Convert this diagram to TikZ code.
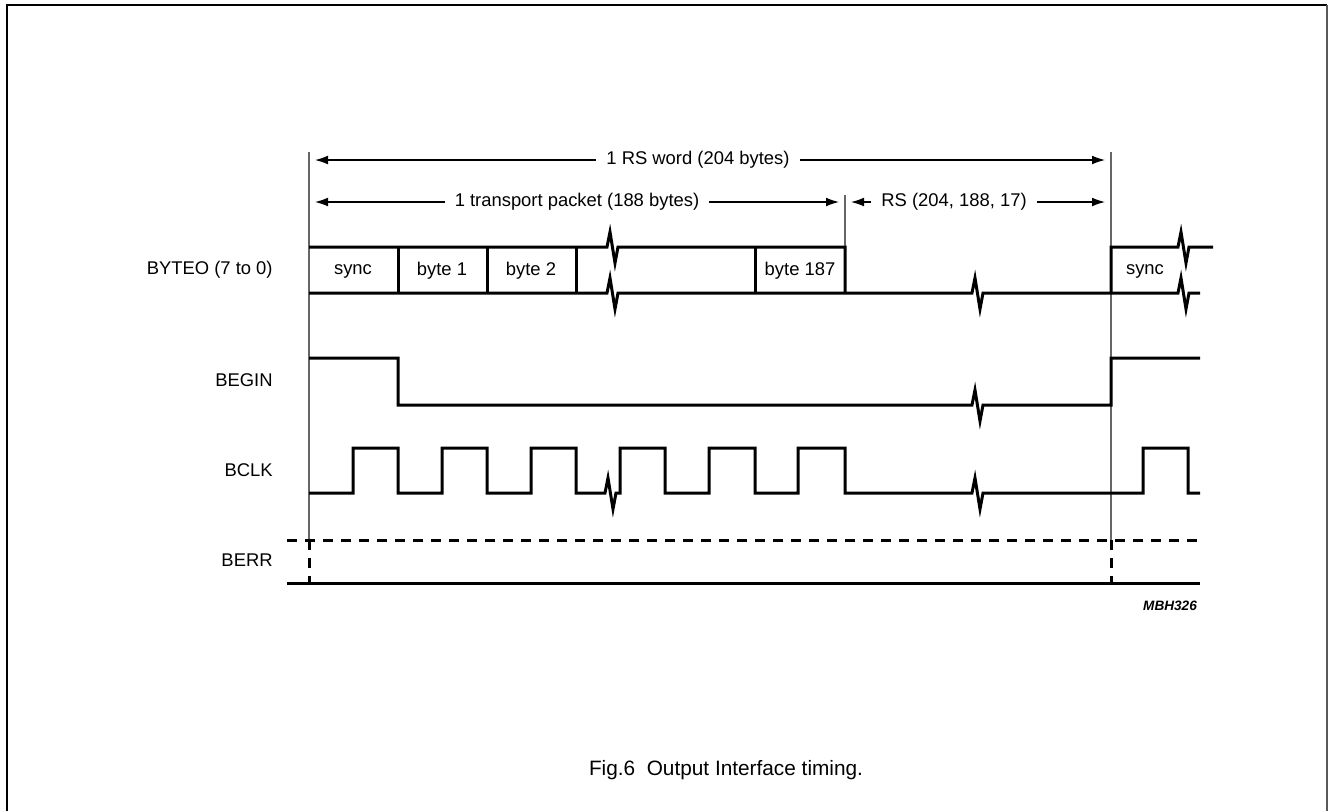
\documentclass[tikz,border=0pt]{standalone}
\usepackage{fontspec}
\setmainfont{Liberation Sans}
\usetikzlibrary{arrows.meta}

\begin{document}
\begin{tikzpicture}[x=0.5pt,y=-0.5pt,>={Latex[length=6.5pt,width=4.4pt]},
  sig/.style={line width=1.5pt},
  guide/.style={gray!80!black,line width=0.6pt},
  dim/.style={<->,line width=0.6pt,shorten <=3pt,shorten >=3pt},
  txt/.style={fill=white,inner xsep=5pt,font=\fontsize{9.2pt}{11pt}\selectfont},
  lbl/.style={anchor=east,inner sep=0pt,font=\fontsize{9.2pt}{11pt}\selectfont},
  zig/.style={insert path={-- ++(3,-15) -- ++(5,31) -- ++(3,-16)}}]
  \useasboundingbox (0,0) rectangle (1328,811);
  % frame
  \draw[line width=1.1pt] (7,811) -- (7,5) -- (1327,5);
  \draw[gray!70!black,line width=0.7pt] (1327,5) -- (1327,811);
  % guide lines
  \draw[guide] (309,152) -- (309,540);
  \draw[guide] (1111,152) -- (1111,540);
  \draw[guide] (845,195) -- (845,247);
  % dimensions
  \coordinate (w0) at (309,160); \coordinate (w1) at (1111,160);
  \coordinate (p0) at (309,202); \coordinate (p1) at (845,202); \coordinate (p2) at (1111,202);
  \draw[dim] (w0) -- (w1) node[pos=0.485,txt] (rsword) {1 RS word (204 bytes)};
  \draw[dim] (p0) -- (p1) node[midway,txt] (packet) {1 transport packet (188 bytes)};
  \draw[dim] (p1) -- (p2) node[pos=0.41,txt] (rscode) {RS (204, 188, 17)};
  % signal names
  \node[lbl] (byteo) at (273,270) {BYTEO (7 to 0)};
  \node[lbl] (begin) at (273,380) {BEGIN};
  \node[lbl] (bclk) at (273,470) {BCLK};
  \node[lbl] (berr) at (273,560) {BERR};
  % BYTEO
  \draw[sig] (309,247) -- (607,247) [zig] -- (845,247) -- (845,293);
  \draw[sig] (309,293) -- (607,293) [zig] -- (972,293) [zig] -- (1178,293) [zig] -- (1200,293);
  \draw[sig] (1111,293) -- (1111,247) -- (1178,247) [zig] -- (1213,247);
  \foreach \x in {398,487,576,755}
    \draw[sig] (\x,247) -- (\x,293);
  \node[txt,fill=none] (b0) at (353,271) {sync};
  \node[txt,fill=none] (b1) at (442,271) {byte 1};
  \node[txt,fill=none] (b2) at (531,271) {byte 2};
  \node[txt,fill=none] (b187) at (800,271) {byte 187};
  \node[txt,fill=none] (b0r) at (1145,271) {sync};
  % BEGIN
  \draw[sig] (309,358) -- (398,358) -- (398,405) -- (972,405) [zig] -- (1111,405) -- (1111,358) -- (1200,358);
  % BCLK
  \draw[sig] (309,493) -- (353,493) -- (353,448) -- (398,448) -- (398,493)
    -- (442,493) -- (442,448) -- (487,448) -- (487,493)
    -- (531,493) -- (531,448) -- (576,448) -- (576,493)
    -- (605,493) [zig] -- (620,493) -- (620,448) -- (665,448) -- (665,493)
    -- (709,493) -- (709,448) -- (755,448) -- (755,493)
    -- (798,493) -- (798,448) -- (845,448) -- (845,493)
    -- (972,493) [zig] -- (1143,493) -- (1143,448) -- (1188,448) -- (1188,493) -- (1200,493);
  % BERR
  \draw[sig,dash pattern=on 5pt off 4pt] (287,540) -- (1200,540);
  \draw[sig,dash pattern=on 5pt off 4pt] (309,540) -- (309,583);
  \draw[sig,dash pattern=on 5pt off 4pt] (1111,540) -- (1111,583);
  \draw[sig] (287,583) -- (1200,583);
  \node[font=\fontsize{6.8pt}{8pt}\selectfont\bfseries\itshape] (code) at (1170,606) {MBH326};
  \node[font=\fontsize{10.4pt}{12pt}\selectfont] (caption) at (726,770) {Fig.6\ \ Output Interface timing.};
\end{tikzpicture}
\end{document}
